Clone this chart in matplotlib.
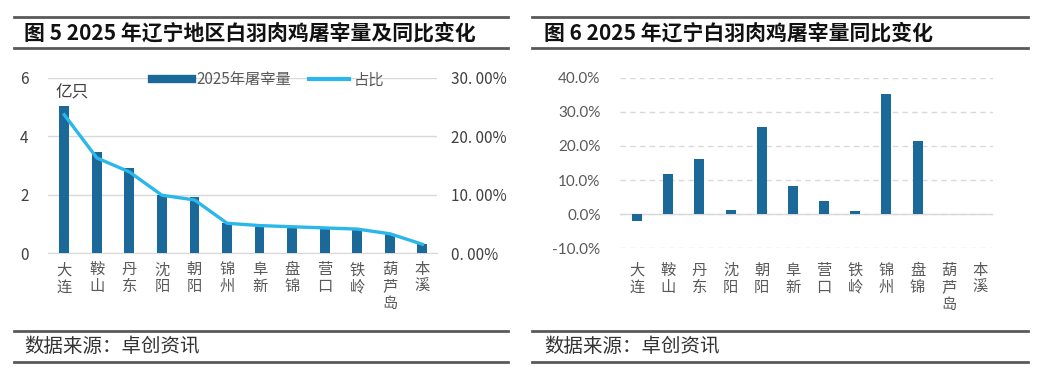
import numpy as np
import matplotlib.pyplot as plt
from matplotlib.lines import Line2D

plt.rcParams['font.family'] = ['Noto Sans CJK SC', 'DejaVu Sans']

# data
cities5 = ['大连', '鞍山', '丹东', '沈阳', '朝阳', '锦州', '阜新', '盘锦', '营口', '铁岭', '葫芦岛', '本溪']
volume = [5.05, 3.48, 2.90, 2.00, 1.93, 1.03, 0.95, 0.90, 0.87, 0.83, 0.65, 0.30]
share = [23.7, 16.3, 13.9, 9.9, 9.1, 5.1, 4.7, 4.5, 4.3, 4.1, 3.3, 1.5]

cities6 = ['大连', '鞍山', '丹东', '沈阳', '朝阳', '阜新', '营口', '铁岭', '锦州', '盘锦', '葫芦岛', '本溪']
yoy = [-2.1, 11.8, 16.1, 1.3, 25.7, 8.2, 3.9, 0.9, 35.2, 21.6, 0.0, 0.0]

W, H = 1039, 373
bar_c = '#1b6999'
line_c = '#2cb7ea'
tick_c = '#595959'

fig = plt.figure(figsize=(W / 100, H / 100), dpi=100)


def px(x0, y0, x1, y1):
    # pixel box (top-left origin) -> figure fraction rect
    return [x0 / W, 1 - y1 / H, (x1 - x0) / W, (y1 - y0) / H]


def rule(x0, x1, y, lw=2.0):
    fig.add_artist(Line2D([x0 / W, x1 / W], [1 - y / H, 1 - y / H],
                          color='#5a5a5a', lw=lw, transform=fig.transFigure))


def vlabels(names):
    return ['\n'.join(n) for n in names]


# frame rules and titles
for x0, x1 in [(14, 508), (532, 1028)]:
    rule(x0, x1, 17)
    rule(x0, x1, 48)
    rule(x0, x1, 331)
    rule(x0, x1, 362)

fig.text(24 / W, 1 - 33 / H, '图 5 2025 年辽宁地区白羽肉鸡屠宰量及同比变化', fontsize=15,
         fontweight='bold', va='center', ha='left', color='#111111')
fig.text(544 / W, 1 - 33 / H, '图 6 2025 年辽宁白羽肉鸡屠宰量同比变化', fontsize=15,
         fontweight='bold', va='center', ha='left', color='#111111')
for x in [24, 544]:
    fig.text(x / W, 1 - 347 / H, '数据来源：卓创资讯', fontsize=14, va='center',
             ha='left', color='#333333')

# ---- left chart ----
ax = fig.add_axes(px(48, 78, 437, 253))
x = np.arange(len(cities5))
ax.bar(x, volume, width=0.3, color=bar_c, zorder=3, label='2025年屠宰量')
ax.set_xlim(-0.5, 11.45)
ax.set_ylim(0, 6)
ax.set_yticks([0, 2, 4, 6])
ax.grid(axis='y', color='#d9d9d9', lw=1, zorder=0)
for s in ['top', 'right', 'left']:
    ax.spines[s].set_visible(False)
ax.spines['bottom'].set_color('#d9d9d9')
ax.tick_params(axis='y', length=0, pad=14, labelsize=11, labelcolor='#404040')
ax.tick_params(axis='x', length=0, pad=6)
ax.set_xticks(x)
ax.set_xticklabels(vlabels(cities5), fontsize=11, color=tick_c, va='top', linespacing=1.0)
ax.text(0.02, 0.965, '亿只', transform=ax.transAxes, fontsize=12, color='#404040', va='top')

ax2 = ax.twinx()
ax2.plot(x, share, color=line_c, lw=2.4, zorder=4, label='占比')
ax2.set_ylim(0, 30)
ax2.set_yticks([0, 10, 20, 30])
ax2.set_yticklabels(['0. 00%', '10. 00%', '20. 00%', '30. 00%'])
ax2.tick_params(axis='y', length=0, pad=10, labelsize=11, labelcolor='#404040')
for s in ax2.spines.values():
    s.set_visible(False)

handles = [Line2D([], [], color=bar_c, lw=6), Line2D([], [], color=line_c, lw=3)]
leg = ax.legend(handles, ['2025年屠宰量', '占比'], loc='center', bbox_to_anchor=(0.566, 0.99),
                ncol=2, frameon=False, fontsize=11, handlelength=2.6, columnspacing=1.2,
                handletextpad=0.3)
for t in leg.get_texts():
    t.set_color(tick_c)

# ---- right chart ----
bx = fig.add_axes(px(620, 78, 993, 248))
x6 = np.arange(len(cities6))
bx.bar(x6, yoy, width=0.32, color=bar_c, zorder=3)
bx.set_xlim(-0.55, 11.42)
bx.set_ylim(-10, 40)
bx.set_yticks([-10, 0, 10, 20, 30, 40])
bx.set_yticklabels(['-10.0%', '0.0%', '10.0%', '20.0%', '30.0%', '40.0%'], family='Lato')
bx.grid(axis='y', color='#d9d9d9', lw=1, ls=(0, (4, 3)), zorder=0)
bx.axhline(0, color='#d9d9d9', lw=1, zorder=2)
for s in bx.spines.values():
    s.set_visible(False)
bx.tick_params(axis='y', length=0, pad=14, labelsize=11, labelcolor=tick_c)
bx.tick_params(axis='x', length=0, pad=10)
bx.set_xticks(x6)
bx.set_xticklabels(vlabels(cities6), fontsize=11, color=tick_c, va='top', linespacing=1.0)

fig.savefig('out.png', dpi=100)
